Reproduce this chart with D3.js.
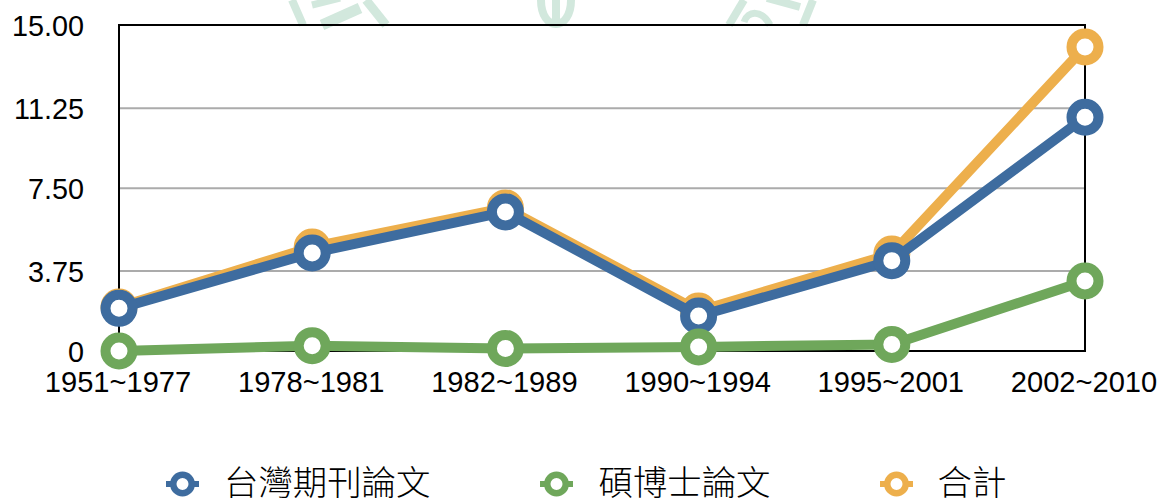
<!DOCTYPE html>
<html><head><meta charset="utf-8">
<script src="https://cdn.jsdelivr.net/npm/d3@7"></script>
<style>html,body{margin:0;padding:0;background:#fff}svg{display:block}</style>
</head><body><svg id="c" width="1161" height="499"></svg>
<script>
const categories = ["1951~1977","1978~1981","1982~1989","1990~1994","1995~2001","2002~2010"];
const yTicks = [0,3.75,7.5,11.25,15];
const yTickLabels = ["0","3.75","7.50","11.25","15.00"];
const journal = [2.0,4.57,6.43,1.64,4.22,10.83];
const thesis = [0.0,0.25,0.12,0.19,0.31,3.28];
const total = [2.06,4.84,6.61,1.875,4.52,14.01];
const seriesNames = ["台灣期刊論文","碩博士論文","合計"];
const colors = ["#3E6C9F","#6FA75B","#EDAF4C"];
const seriesValues = [journal, thesis, total];
const drawOrder = [2,0,1];

const svg = d3.select("#c");
const sans = "'Liberation Sans',Arial,sans-serif";
const x = d3.scalePoint().domain(categories).range([119,1085]);
const y = d3.scaleLinear().domain(yTicks).range([351,271,188.3,108.3,25]);

// faint background watermark cut by the top of the picture
const wm = svg.append("g").attr("fill","none").attr("stroke","#d2e8dd").attr("stroke-linecap","butt");
[
 ["M292,0L303,25",8],["M366,0L386,25",9],["M322,25L360,8",11],["M312,5L340,-2",7],
 ["M744,0L729,25",8],["M813,0L803,25",8],["M767,-2L800,7",8],
 ["M744,22C748,10 762,10 770,25",7],
 ["M556,0V22",8]
].forEach(([d,w])=>wm.append("path").attr("d",d).attr("stroke-width",w));
wm.append("path").attr("d","M541,0C541,32 571,32 571,0").attr("stroke-width",8);

// grid
svg.append("g").selectAll("line").data(yTicks.slice(1,4)).join("line")
 .attr("x1",119).attr("x2",1085).attr("y1",d=>y(d)).attr("y2",d=>y(d))
 .attr("stroke","#ababab").attr("stroke-width",2);
// frame
svg.append("rect").attr("x",119).attr("y",25).attr("width",966).attr("height",326)
 .attr("fill","none").attr("stroke","#000").attr("stroke-width",2);

const yAxis = d3.axisLeft(y).tickValues(yTicks).tickFormat((d,i)=>yTickLabels[i]).tickSize(0).tickPadding(0);
const ya = svg.append("g").attr("transform","translate(84,0.5)").call(yAxis);
ya.select(".domain").remove();
ya.selectAll("text").attr("font-family",sans).attr("font-size",28.8).attr("fill","#000").attr("dy","0.35em");

const xAxis = d3.axisBottom(x).tickSize(0).tickPadding(0);
const xa = svg.append("g").attr("transform","translate(-1.5,392)").call(xAxis);
xa.select(".domain").remove();
xa.selectAll("text").attr("font-family",sans).attr("font-size",29.1).attr("fill","#000").attr("dy",0).attr("y",0);

const line = d3.line().x((d,i)=>x(categories[i])).y(d=>y(d));
drawOrder.forEach(s=>{
 const g = svg.append("g");
 g.append("path").attr("d",line(seriesValues[s])).attr("fill","none")
  .attr("stroke",colors[s]).attr("stroke-width",10).attr("stroke-linejoin","round");
 g.selectAll("circle").data(seriesValues[s]).join("circle")
  .attr("cx",(d,i)=>x(categories[i])).attr("cy",d=>y(d)).attr("r",13.5)
  .attr("fill","#fff").attr("stroke",colors[s]).attr("stroke-width",10);
});

// legend
const legendMarkX = [182.5,556.5,896.5];
const legendTextX = [224,598.5,937.5];
const lg = svg.append("g").selectAll("g").data(seriesNames).join("g");
lg.append("line").attr("x1",(d,i)=>legendMarkX[i]-16.5).attr("x2",(d,i)=>legendMarkX[i]+16.5)
 .attr("y1",484).attr("y2",484).attr("stroke",(d,i)=>colors[i]).attr("stroke-width",6);
lg.append("circle").attr("cx",(d,i)=>legendMarkX[i]).attr("cy",484).attr("r",9.25)
 .attr("fill","#fff").attr("stroke",(d,i)=>colors[i]).attr("stroke-width",6.5);
lg.append("text").text(d=>d).attr("x",(d,i)=>legendTextX[i]).attr("y",495)
 .attr("font-family","'Noto Sans CJK TC',sans-serif").attr("font-weight",300).attr("font-size",34.4).attr("fill","#000");
</script></body></html>
